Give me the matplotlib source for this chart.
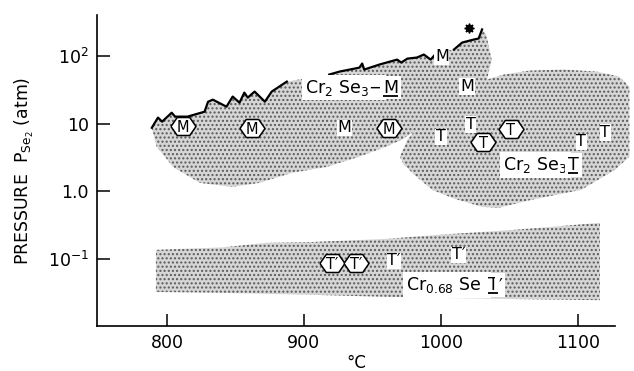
import numpy as np
import matplotlib
matplotlib.use("Agg")
import matplotlib.pyplot as plt

# boundary line of the Cr2Se3 region (deg C, atm)
line1_t = [789, 793.5, 796.5, 803.5, 806, 815, 827.5, 830, 833.5, 843.5, 848, 853, 856.5, 859, 864, 871.5, 876.5, 887.5]
line1_p = [8.7, 12.3, 10.7, 14.5, 12.7, 12.7, 15.0, 21, 22.6, 17.8, 25.1, 20.4, 28.7, 24.2, 29.7, 21.1, 29.7, 41.7]
line2_t = [918.5, 926, 940.5, 942.5, 944, 955, 968, 971, 975.5, 982.5, 987.5, 992.5, 997]
line2_p = [53, 58.6, 67, 77, 62.8, 74.3, 88, 79.6, 91, 94.4, 104.5, 88, 112]
line3_t = [1009.5, 1015.5, 1024, 1027.5, 1030]
line3_p = [124, 157, 174, 180, 245]

# lower / right edge of the M field
m_edge_t = [1033, 1037, 1033, 1022.5, 998.5, 971.5, 960, 940.5, 916.5, 891.5, 867.5, 848, 824, 804.5, 792.5, 789]
m_edge_p = [206, 88, 40, 22.6, 13.6, 5.8, 4.6, 3.26, 2.3, 1.89, 1.34, 1.17, 1.34, 2.3, 4.6, 8.7]

# T field outline
t_field_t = [970, 975.5, 987.5, 1006.5, 1026, 1046, 1064.5, 1089.5, 1113.5, 1130, 1137.5,
             1137.5, 1127, 1102.5, 1066, 1042, 1030, 1010, 993.5, 980.5, 973]
t_field_p = [3.25, 5.8, 11.5, 22.6, 40.4, 53, 60.6, 62.8, 58.6, 49.5, 35.2,
             3.25, 2.09, 1.06, 0.754, 0.574, 0.594, 0.78, 1.06, 1.77, 2.48]

# T' band
band_t = [792, 840.7, 872.7, 906, 960, 998.5, 1051.6, 1116]
band_top = [0.138, 0.15, 0.175, 0.18, 0.2, 0.23, 0.27, 0.345]
band_bot = [0.033, 0.032, 0.031, 0.03, 0.028, 0.027, 0.026, 0.025]

# observed phases
hexM_t = [811.5, 862, 962]
hexM_p = [9.3, 8.7, 8.7]
M_t = [929.5, 1019, 1000.7]
M_p = [8.7, 35.2, 97]
hexT_t = [1031, 1051]
hexT_p = [5.4, 8.4]
T_t = [1000, 1021.8, 1102.5, 1120]
T_p = [6.4, 9.7, 5.4, 7.4]
hexT2_t = [920.7, 938.2]
hexT2_p = [0.089, 0.089]
T2_t = [965.8, 1013]
T2_p = [0.095, 0.116]
star_t, star_p = 1020.4, 253

yticks = [0.1, 1, 10, 100]
ytick_labels = [r"10$^{-1}$", "1.0", "10", r"10$^2$"]
xticks = [800, 900, 1000, 1100]

plt.rcParams["font.family"] = ["DejaVu Sans"]
plt.rcParams["mathtext.fontset"] = "dejavusans"

fig = plt.figure(figsize=(6.34, 3.71), dpi=100)
ax = fig.add_axes([97 / 634, 45 / 371, 518 / 634, 311 / 371])
ax.set_yscale("log")
ax.set_xlim(749, 1127)
ax.set_ylim(0.0104, 400)

stip = dict(facecolor="#d6d6d6", edgecolor="#5a5a5a", hatch="....", linewidth=0, zorder=1)

ax.fill(line1_t + line2_t + line3_t + m_edge_t, line1_p + line2_p + line3_p + m_edge_p, **stip)
ax.fill(t_field_t, t_field_p, clip_on=False, **stip)
ax.fill_between(band_t, band_bot, band_top, **stip)

for xs, ys in [(line1_t, line1_p), (line2_t, line2_p), (line3_t, line3_p)]:
    ax.plot(xs, ys, color="black", lw=1.6, zorder=3)

ax.plot(star_t, star_p, marker=(8, 1, 0), ms=7, color="black", zorder=4)

hexv = [(-1, 0), (-0.5, 0.72), (0.5, 0.72), (1, 0), (0.5, -0.72), (-0.5, -0.72), (-1, 0)]
hex_kw = dict(marker=hexv, ms=18, mfc="white", mec="black", mew=1.1, ls="none", zorder=4)
ax.plot(hexM_t, hexM_p, **hex_kw)
ax.plot(hexT_t, hexT_p, **hex_kw)
ax.plot(hexT2_t, hexT2_p, **hex_kw)

hexlbl = dict(ha="center", va="center_baseline", fontsize=10.5, zorder=5)
lbl = dict(ha="center", va="center", fontsize=11.5, zorder=5)
halo = dict(facecolor="white", edgecolor="none", pad=0.5)
for x, y in zip(hexM_t, hexM_p):
    ax.text(x, y, "M", **hexlbl)
for x, y in zip(hexT_t, hexT_p):
    ax.text(x, y, "T", **hexlbl)
for x, y in zip(hexT2_t, hexT2_p):
    ax.text(x, y, "T\u2032", **hexlbl)
for x, y in zip(M_t, M_p):
    ax.text(x, y, "M", bbox=halo, **lbl)
for x, y in zip(T_t, T_p):
    ax.text(x, y, "T", bbox=halo, **lbl)
for x, y in zip(T2_t, T2_p):
    ax.text(x, y, "T\u2032", bbox=halo, **lbl)

# phase names, last letter underlined
box = dict(facecolor="white", edgecolor="none", pad=2)
renderer = fig.canvas.get_renderer()


def phase_label(x, y, prefix, letter, suffix=""):
    kw = dict(fontsize=12.5, va="baseline", bbox=box, zorder=5)
    ax.text(x, y, prefix, ha="right", **kw)
    t = ax.text(x, y, letter, ha="left", **kw)
    bb = t.get_window_extent(renderer)
    inv = ax.transData.inverted()
    base = ax.transData.transform((x, y))[1]
    (x0, y0), (x1, _) = inv.transform([(bb.x0 + 0.5, base - 3), (bb.x1 - 0.5, base - 3)])
    ax.plot([x0, x1], [y0, y0], color="black", lw=1.3, zorder=6, solid_capstyle="butt")
    if suffix:
        ax.text(x1, y, suffix, ha="left", **kw)


phase_label(957.7, 28.7, r"Cr$_2$ Se$_3$$-$", "M")
phase_label(1092.7, 2.09, r"Cr$_2$ Se$_3$ ", "T")
phase_label(1034.3, 0.0352, r"Cr$_{0.68}$ Se  ", "T", "\u2032")

ax.spines["top"].set_visible(False)
ax.spines["right"].set_visible(False)
for s in ["left", "bottom"]:
    ax.spines[s].set_linewidth(1.2)

ax.set_yticks(yticks)
ax.set_yticklabels(ytick_labels)
ax.yaxis.set_minor_locator(matplotlib.ticker.NullLocator())
ax.set_xticks(xticks)
ax.tick_params(direction="in", length=9, width=1.1, labelsize=12.5, pad=6)

ax.set_xlabel("\u00b0C", fontsize=12, labelpad=1)
ax.set_ylabel(r"PRESSURE  P$_{\mathrm{Se}_2}$ (atm)", fontsize=12.5, labelpad=8)

fig.savefig("out.png", dpi=100)
